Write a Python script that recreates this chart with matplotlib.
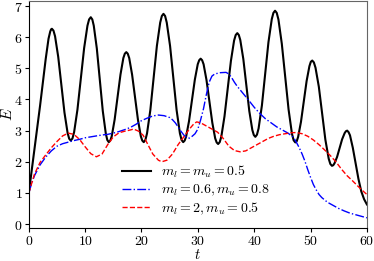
import numpy as np
import matplotlib
matplotlib.use('Agg')
import matplotlib.pyplot as plt
from matplotlib.ticker import FuncFormatter

plt.rcParams['mathtext.fontset'] = 'cm'
plt.rcParams['font.family'] = 'serif'
plt.rcParams['font.size'] = 10

# black: m_l = m_u = 0.5
t_a = [0.0, 0.5, 1.0, 1.5, 2.0, 2.5, 3.0, 3.5, 3.8, 3.95,
       4.1, 4.38, 4.66, 5.22, 5.78, 6.33, 6.89, 7.17,
       7.45, 7.75, 8.04, 8.63, 9.23, 9.82, 10.41, 10.70,
       11.0, 11.27, 11.53, 12.07, 12.6, 13.13, 13.67, 13.93,
       14.2, 14.46, 14.72, 15.23, 15.75, 16.27, 16.78, 17.04,
       17.3, 17.56, 17.82, 18.33, 18.85, 19.37, 19.88, 20.14,
       20.4, 20.69, 20.98, 21.57, 22.15, 22.73, 23.32, 23.61,
       23.9, 24.19, 24.48, 25.07, 25.65, 26.23, 26.82, 27.11,
       27.4, 27.66, 27.92, 28.43, 28.95, 29.47, 29.98, 30.24,
       30.5, 30.76, 31.02, 31.53, 32.05, 32.57, 33.08, 33.34,
       33.6, 33.88, 34.17, 34.73, 35.3, 35.87, 36.43, 36.72,
       37.0, 37.27, 37.53, 38.07, 38.6, 39.13, 39.67, 39.93,
       40.2, 40.49, 40.78, 41.37, 41.95, 42.53, 43.12, 43.41,
       43.7, 44.0, 44.3, 44.9, 45.5, 46.1, 46.7, 47.0,
       47.3, 47.55, 47.8, 48.3, 48.8, 49.3, 49.8, 50.05,
       50.3, 50.59, 50.88, 51.47, 52.05, 52.63, 53.22, 53.51,
       53.8, 54.03, 54.25, 54.7, 55.15, 55.6, 56.05, 56.28,
       56.5, 56.75, 57.0, 57.5, 58.0, 58.5, 59.0, 59.5, 60.0]
E_a = [1.0, 1.7, 2.4, 3.1, 3.8, 4.55, 5.3, 5.95, 6.18, 6.25,
       6.27, 6.21, 6.03, 5.37, 4.48, 3.58, 2.92, 2.74,
       2.68, 2.75, 2.95, 3.67, 4.66, 5.65, 6.37, 6.57,
       6.64, 6.57, 6.37, 5.64, 4.64, 3.63, 2.90, 2.70,
       2.63, 2.68, 2.82, 3.35, 4.08, 4.80, 5.33, 5.47,
       5.52, 5.47, 5.33, 4.80, 4.08, 3.35, 2.82, 2.68,
       2.63, 2.70, 2.91, 3.66, 4.69, 5.72, 6.47, 6.68,
       6.75, 6.68, 6.47, 5.72, 4.69, 3.66, 2.91, 2.70,
       2.63, 2.68, 2.81, 3.30, 3.97, 4.64, 5.13, 5.26,
       5.31, 5.26, 5.13, 4.63, 3.94, 3.25, 2.75, 2.62,
       2.57, 2.63, 2.81, 3.46, 4.35, 5.24, 5.89, 6.07,
       6.13, 6.07, 5.91, 5.30, 4.47, 3.63, 3.02, 2.86,
       2.80, 2.87, 3.07, 3.81, 4.83, 5.84, 6.58, 6.78,
       6.85, 6.78, 6.57, 5.79, 4.74, 3.68, 2.90, 2.69,
       2.62, 2.66, 2.80, 3.28, 3.94, 4.59, 5.07, 5.21,
       5.25, 5.19, 5.02, 4.41, 3.56, 2.71, 2.10, 1.93,
       1.87, 1.89, 1.95, 2.15, 2.44, 2.72, 2.92, 2.98,
       3.0, 2.95, 2.85, 2.45, 1.95, 1.45, 1.05, 0.8, 0.63]

# blue: m_l = 0.6, m_u = 0.8
t_b = [0, 0.5, 1, 2, 3, 4, 5, 6, 7, 8, 9, 10, 11, 12, 13, 14, 15, 16, 17,
       18, 19, 20, 21, 22, 23, 24, 25, 25.5, 26, 26.5, 27, 27.5, 28, 28.5,
       29, 29.5, 30, 30.5, 31, 31.5, 32, 32.5, 33, 34, 35, 35.5, 36, 36.5,
       37, 38, 39, 40, 41, 42, 43, 44, 45, 46, 47, 47.5, 48, 48.5, 49, 49.5,
       50, 50.5, 51, 51.5, 52, 53, 54, 55, 56, 57, 58, 59, 60]
E_b = [1.0, 1.3, 1.55, 1.9, 2.15, 2.35, 2.5, 2.58, 2.63, 2.68, 2.72, 2.77,
       2.8, 2.83, 2.86, 2.88, 2.92, 2.97, 3.03, 3.1, 3.2, 3.32, 3.4, 3.47,
       3.5, 3.48, 3.42, 3.35, 3.25, 3.12, 2.98, 2.86, 2.78, 2.76, 2.82, 2.9,
       3.05, 3.35, 3.7, 4.15, 4.55, 4.75, 4.82, 4.86, 4.87, 4.82, 4.7, 4.55,
       4.42, 4.2, 3.98, 3.75, 3.55, 3.38, 3.25, 3.12, 3.02, 2.92, 2.78, 2.62,
       2.45, 2.25, 2.02, 1.75, 1.5, 1.27, 1.1, 0.95, 0.85, 0.7, 0.6, 0.5,
       0.42, 0.35, 0.3, 0.25, 0.2]

# red: m_l = 2, m_u = 0.5
t_c = [0, 0.5, 1, 2, 3, 4, 5, 6, 7, 8, 9, 10, 11, 12, 13, 14, 15, 16, 17,
       18, 18.6, 19.5, 20.3, 21, 22, 23, 23.6, 24.5, 25.5, 26.5, 27.5, 28.5,
       29.3, 29.8, 30.5, 31.5, 32.5, 33.5, 34.5, 35.5, 36.5, 37.5, 38.5,
       39.5, 40.5, 41.5, 42.5, 43.5, 44.5, 45.5, 46.5, 47.5, 48.5, 49.5,
       50.5, 51.5, 52.5, 53.5, 54.5, 55.5, 56.5, 57.5, 58.5, 59.5, 60]
E_c = [1.0, 1.3, 1.6, 1.98, 2.22, 2.45, 2.65, 2.83, 2.92, 2.88, 2.72, 2.48,
       2.26, 2.16, 2.25, 2.55, 2.8, 2.93, 2.98, 3.02, 3.05, 2.98, 2.85, 2.6,
       2.25, 2.05, 2.0, 2.05, 2.25, 2.55, 2.8, 3.05, 3.22, 3.28, 3.25, 3.15,
       3.05, 2.95, 2.75, 2.5, 2.36, 2.32, 2.35, 2.45, 2.55, 2.65, 2.75, 2.82,
       2.87, 2.9, 2.93, 2.94, 2.9, 2.82, 2.7, 2.55, 2.38, 2.2, 2.0, 1.76,
       1.55, 1.38, 1.2, 1.03, 0.95]

labels = [r'$m_l = m_u = 0.5$', r'$m_l = 0.6, m_u = 0.8$', r'$m_l = 2, m_u = 0.5$']

fig = plt.figure(figsize=(3.74, 2.61), dpi=100)
ax = fig.add_axes([0.077, 0.126, 0.904, 0.87])

ax.plot(t_a, E_a, color='black', lw=1.5, solid_joinstyle='round', label=labels[0])
ax.plot(t_b, E_b, color='blue', lw=1.0, ls='-.', label=labels[1])
ax.plot(t_c, E_c, color='red', lw=1.0, ls='--', label=labels[2])

ax.set_xlim(0, 60)
ax.set_ylim(-0.13, 7.16)
ax.set_xticks([0, 10, 20, 30, 40, 50, 60])
ax.set_yticks([0, 1, 2, 3, 4, 5, 6, 7])
fmt = FuncFormatter(lambda v, p: r'$%d$' % v)
ax.xaxis.set_major_formatter(fmt)
ax.yaxis.set_major_formatter(fmt)
ax.tick_params(length=3, pad=1.5, labelsize=10)
ax.set_xlabel(r'$t$', fontsize=10.5)
ax.set_ylabel(r'$E$', fontsize=11)
ax.xaxis.set_label_coords(0.5, -0.088)
ax.yaxis.set_label_coords(-0.04, 0.5)

for s in ['top', 'right']:
    ax.spines[s].set_color('0.4')

ax.legend(loc='center', bbox_to_anchor=(0.495, 0.167), frameon=False,
          handlelength=2.1, handletextpad=0.7, labelspacing=0.16, fontsize=10)

fig.savefig('out.png', dpi=100)
